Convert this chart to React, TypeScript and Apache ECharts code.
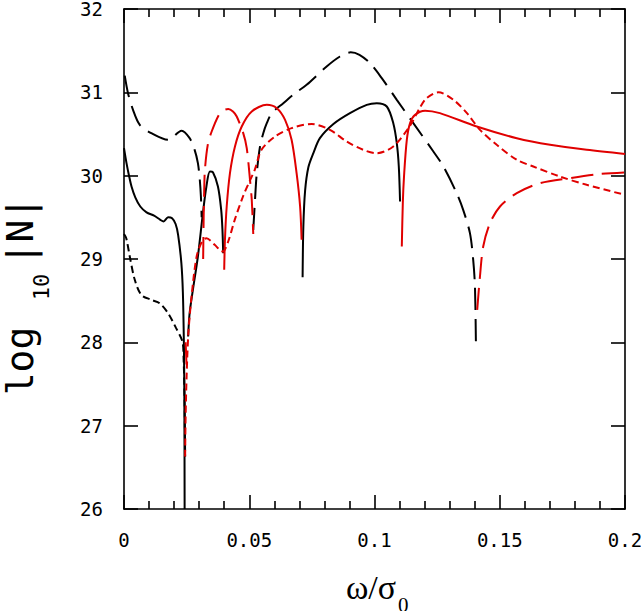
import React, { useEffect, useRef } from 'react';
import * as echarts from 'echarts';

const BLACK = '#000000';
const RED = '#e00000';

// x ticks / y ticks
const xTickLabels = ['0', '0.05', '0.1', '0.15', '0.2'];
const yRange = [26, 32];

// Black solid curve (pieces)
const blackSolidA: [number, number][] = [
  [0, 30.33], [0.001, 30.15], [0.002, 30.0], [0.003, 29.87], [0.0045, 29.74],
  [0.0065, 29.63], [0.009, 29.56], [0.012, 29.52], [0.0145, 29.47], [0.0158, 29.45],
  [0.0176, 29.5], [0.0192, 29.49], [0.0206, 29.42], [0.0216, 29.29], [0.0229, 28.95],
  [0.0235, 28.6], [0.0239, 28.0], [0.0241, 27.3], [0.0242, 26.0],
];
const blackSolidB: [number, number][] = [
  [0.0256, 28.07], [0.0262, 28.35], [0.0275, 28.63], [0.0295, 29.03], [0.0315, 29.55],
  [0.0329, 29.87], [0.0343, 30.05], [0.0355, 30.04], [0.0375, 29.87], [0.0388, 29.59],
  [0.0393, 29.35], [0.0396, 29.07],
];
const blackSolidC: [number, number][] = [
  [0.0713, 28.78], [0.0716, 29.39], [0.0723, 29.82], [0.0736, 30.1], [0.0756, 30.27],
  [0.0782, 30.45], [0.0836, 30.62], [0.0902, 30.75], [0.0969, 30.85], [0.1009, 30.87],
  [0.1049, 30.83], [0.1075, 30.63], [0.1089, 30.39], [0.1097, 30.11], [0.1102, 29.69],
];

// Black short-dash curve
const blackDotted: [number, number][] = [
  [0, 29.3], [0.0009, 29.25], [0.0023, 29.03], [0.0043, 28.75], [0.0069, 28.57],
  [0.0109, 28.51], [0.0142, 28.47], [0.0176, 28.35], [0.0208, 28.17], [0.0234, 28.0],
  [0.0238, 27.8], [0.0242, 27.3], [0.0244, 26.63],
];

// Black long-dash curve
const blackDashA: [number, number][] = [
  [0.0003, 31.2], [0.0016, 30.99], [0.0036, 30.79], [0.0063, 30.61], [0.0109, 30.51],
  [0.0176, 30.43], [0.023, 30.54], [0.0262, 30.45], [0.0282, 30.31], [0.0295, 30.15],
  [0.0302, 29.97], [0.0307, 29.75], [0.031, 29.5],
];
const blackDashB: [number, number][] = [
  [0.0516, 29.35], [0.0523, 29.71], [0.053, 30.03], [0.0543, 30.35], [0.0556, 30.51],
  [0.057, 30.63], [0.059, 30.75], [0.0636, 30.87], [0.0683, 30.99], [0.0729, 31.09],
  [0.0809, 31.31], [0.0862, 31.43], [0.0905, 31.48], [0.094, 31.45], [0.0982, 31.35],
  [0.1029, 31.17], [0.1089, 30.91], [0.1155, 30.63], [0.1235, 30.29], [0.1275, 30.11],
  [0.1328, 29.79], [0.1354, 29.59], [0.1381, 29.31], [0.1394, 28.99], [0.1401, 28.67],
  [0.1405, 27.95],
];

// Red solid curve
const redSolidA: [number, number][] = [
  [0.04, 28.87], [0.0403, 29.23], [0.041, 29.63], [0.0423, 30.03], [0.0443, 30.35],
  [0.047, 30.59], [0.051, 30.77], [0.057, 30.85], [0.061, 30.81], [0.0643, 30.67],
  [0.0669, 30.43], [0.0689, 30.03], [0.0703, 29.63], [0.0709, 29.23],
];
const redSolidB: [number, number][] = [
  [0.1109, 29.15], [0.1113, 29.67], [0.1118, 30.0], [0.1129, 30.43], [0.1142, 30.63],
  [0.1162, 30.73], [0.1202, 30.78], [0.1261, 30.75], [0.1408, 30.59], [0.1568, 30.45],
  [0.1701, 30.37], [0.1847, 30.31], [0.2, 30.26],
];

// Red short-dash curve
const redDotted: [number, number][] = [
  [0.0244, 26.63], [0.0246, 27.11], [0.025, 27.6], [0.0257, 28.11], [0.0271, 28.59],
  [0.029, 29.03], [0.031, 29.2], [0.0329, 29.25], [0.0362, 29.17], [0.0382, 29.11],
  [0.0395, 29.09], [0.0416, 29.21], [0.0442, 29.47], [0.0475, 29.75], [0.0501, 29.93],
  [0.0522, 30.07], [0.0549, 30.31], [0.0603, 30.47], [0.0669, 30.57], [0.0749, 30.62],
  [0.0822, 30.55], [0.0889, 30.41], [0.0955, 30.31], [0.1008, 30.27], [0.1075, 30.35],
  [0.1142, 30.6], [0.1182, 30.82], [0.1208, 30.93], [0.1255, 31.0], [0.1315, 30.91],
  [0.1369, 30.75], [0.1421, 30.55], [0.1488, 30.37], [0.1568, 30.19], [0.1634, 30.11],
  [0.174, 29.99], [0.1847, 29.89], [0.2, 29.77],
];

// Red long-dash curve
const redDashA: [number, number][] = [
  [0.0246, 28.0], [0.025, 27.7],
];
const redDashB: [number, number][] = [
  [0.0316, 29.0], [0.0318, 29.5], [0.032, 29.8], [0.0323, 30.07], [0.0335, 30.38],
  [0.035, 30.53], [0.0377, 30.72], [0.0395, 30.78], [0.0416, 30.8], [0.0435, 30.77],
  [0.045, 30.71], [0.0476, 30.51], [0.049, 30.33], [0.0503, 29.95], [0.051, 29.71],
  [0.0516, 29.3],
];
const redDashC: [number, number][] = [
  [0.141, 28.39], [0.1421, 28.79], [0.1434, 29.15], [0.1461, 29.43], [0.1501, 29.63],
  [0.1568, 29.79], [0.1661, 29.91], [0.178, 29.97], [0.19, 30.02], [0.2, 30.04],
];

// Axis titles
const yTitleMain = 'log';
const yTitleSub = '10';
const yTitleEnd = '|N|';
const xTitleMain = 'ω/σ';
const xTitleSub = '0';

const SOLID = 'solid';
const SHORT = [7, 4];
const LONG = [22, 9];

function seg(data: [number, number][], color: string, type: any) {
  return {
    type: 'line',
    data,
    symbol: 'none',
    showSymbol: false,
    smooth: 0.3,
    clip: true,
    silent: true,
    lineStyle: { color, width: 2, type },
  };
}

const MONO = '"DejaVu Sans Mono", monospace';
const SERIF = '"Liberation Serif", "DejaVu Serif", serif';

function xAxisDef(pos: 'bottom' | 'top', labels: boolean) {
  return {
    type: 'value',
    position: pos,
    min: 0,
    max: 0.2,
    interval: 0.05,
    axisLine: { show: true, onZero: false, lineStyle: { color: BLACK, width: 1.6 } },
    axisTick: { show: true, inside: true, length: 14, lineStyle: { color: BLACK, width: 1.6 } },
    minorTick: { show: true, splitNumber: 5, length: 8, lineStyle: { color: BLACK, width: 1.6 } },
    splitLine: { show: false },
    minorSplitLine: { show: false },
    axisLabel: {
      show: labels,
      showMinLabel: true,
      showMaxLabel: true,
      margin: 21,
      color: BLACK,
      fontFamily: MONO,
      fontSize: 19,
      formatter: (v: number) => {
        const i = Math.round(v / 0.05);
        return xTickLabels[i] ?? '';
      },
    },
  };
}

function yAxisDef(pos: 'left' | 'right', labels: boolean) {
  return {
    type: 'value',
    position: pos,
    min: yRange[0],
    max: yRange[1],
    interval: 1,
    axisLine: { show: true, onZero: false, lineStyle: { color: BLACK, width: 1.6 } },
    axisTick: { show: true, inside: true, length: 14, lineStyle: { color: BLACK, width: 1.6 } },
    splitLine: { show: false },
    axisLabel: {
      show: labels,
      margin: 21,
      color: BLACK,
      fontFamily: MONO,
      fontSize: 19,
    },
  };
}

function txt(text: string, x: number, y: number, fontSize: number, fontFamily: string, align: string, rotation = 0) {
  return {
    type: 'text',
    x,
    y,
    rotation,
    silent: true,
    style: {
      text, fontSize, fontFamily, fill: BLACK,
      align, verticalAlign: 'middle', textAlign: align, textVerticalAlign: 'middle',
    },
  };
}

export default function App() {
  const ref = useRef<HTMLDivElement>(null);
  useEffect(() => {
    if (!ref.current) return;
    const chart = echarts.init(ref.current, undefined, { renderer: 'svg' });
    const series = [
      seg(blackDotted, BLACK, SHORT),
      seg(blackDashA, BLACK, LONG),
      seg(blackDashB, BLACK, LONG),
      seg(blackSolidA, BLACK, SOLID),
      seg(blackSolidB, BLACK, SOLID),
      seg(blackSolidC, BLACK, SOLID),
      seg(redDotted, RED, SHORT),
      seg(redDashA, RED, LONG),
      seg(redDashB, RED, LONG),
      seg(redDashC, RED, LONG),
      seg(redSolidA, RED, SOLID),
      seg(redSolidB, RED, SOLID),
    ];
    const R = Math.PI / 2;
    const mainFs = 38;
    const subFs = 22;
    const mainX = 33 - 0.346 * mainFs;
    const subX = 49 - 0.346 * subFs;
    const graphics: any[] = [
      txt(yTitleMain, mainX, 361, mainFs, MONO, 'center', R),
      txt(yTitleSub, subX, 287, subFs, MONO, 'center', R),
      txt(yTitleEnd, mainX, 231, mainFs, MONO, 'center', R),
      txt(xTitleMain, 371, 587, 34, SERIF, 'center'),
      txt(xTitleSub, 398, 605, 21, SERIF, 'left'),
    ];
    chart.setOption({
      animation: false,
      backgroundColor: '#ffffff',
      grid: { left: 124, right: 16, top: 9, bottom: 102, containLabel: false, outerBoundsMode: 'none' },
      xAxis: [xAxisDef('bottom', true), xAxisDef('top', false)],
      yAxis: [yAxisDef('left', true), yAxisDef('right', false)],
      series,
      graphic: graphics,
    });
    return () => chart.dispose();
  }, []);
  return <div ref={ref} style={{ position: 'fixed', left: 0, top: 0, width: 641, height: 611 }} />;
}
